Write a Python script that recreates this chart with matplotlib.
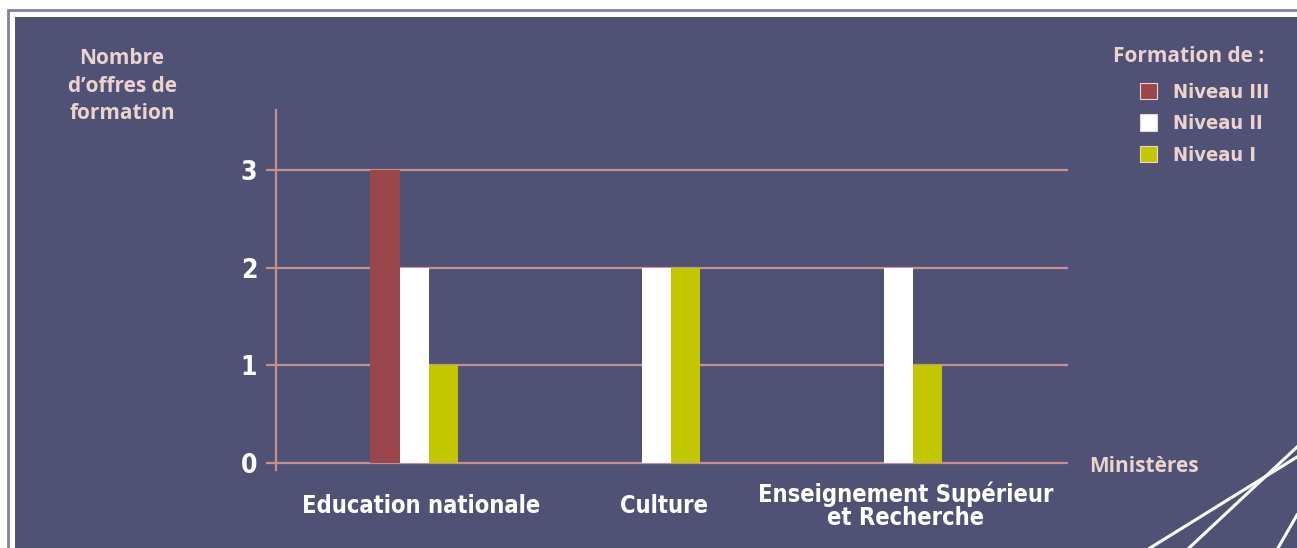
import numpy as np
import matplotlib
matplotlib.use("Agg")
import matplotlib.pyplot as plt
from matplotlib.patches import Rectangle, Patch
from matplotlib.lines import Line2D

# data
ministeres = ["Education nationale", "Culture", "Enseignement Supérieur\net Recherche"]
niveaux = ["Niveau III", "Niveau II", "Niveau I"]
niveau_3 = [3, 0, 0]
niveau_2 = [2, 2, 2]
niveau_1 = [1, 2, 1]
y_ticks = [0, 1, 2, 3]

PANEL = "#4f5275"
GRID = "#c98f8d"
PINK = "#ecd3ce"
colors = ["#9b464a", "#ffffff", "#c3c700"]
NARROW = ["DejaVu Sans"]
SEMI = ["Open Sans", "DejaVu Sans"]

W, H = 1297, 548
fig = plt.figure(figsize=(W / 100, H / 100), dpi=100, facecolor="white")

def px(x, y):
    return x / W, 1 - y / H

# outer frame and panel
fig.patches.append(Rectangle(px(7.5, 560), (W + 20) / W, (560 - 9.5) / H, transform=fig.transFigure,
                             facecolor="none", edgecolor="#7e80a0", linewidth=2, zorder=-2))
fig.patches.append(Rectangle(px(15, 560), (W + 20) / W, (560 - 17) / H, transform=fig.transFigure,
                             facecolor=PANEL, edgecolor="none", zorder=-2))

# decorative white lines, bottom right
for (x0, y0), (x1, y1) in [((1150, 548), (1297, 457)), ((1189, 548), (1297, 447)), ((1278, 548), (1297, 515))]:
    a, b = px(x0, y0), px(x1, y1)
    fig.lines.append(Line2D([a[0], b[0]], [a[1], b[1]], transform=fig.transFigure,
                            color="white", linewidth=2.2, zorder=-1))

ax_left, ax_right, ax_top, ax_bot = 276, 1068, 110, 470
ax = fig.add_axes([ax_left / W, 1 - ax_bot / H, (ax_right - ax_left) / W, (ax_bot - ax_top) / H])
ax.set_zorder(2)
ax.patch.set_alpha(0)

x = np.arange(len(ministeres))
bw = 0.12
for i, (vals, c) in enumerate(zip([niveau_3, niveau_2, niveau_1], colors)):
    ax.bar(x + (i - 1) * bw, vals, width=bw, color=c, zorder=3)

ax.set_ylim(-0.07, 3.614)
ax.set_xlim(-0.57, 2.70)
ax.set_yticks(y_ticks)
ax.set_yticklabels([str(t) for t in y_ticks], color="white", fontsize=19,
                   fontweight="bold", family=NARROW, fontstretch="condensed")
ax.yaxis.grid(True, color=GRID, linewidth=1.6, zorder=1)
ax.tick_params(axis="y", length=7.5, width=1.6, color=GRID, pad=6)
ax.set_xticks([])
for s in ["top", "right", "bottom"]:
    ax.spines[s].set_visible(False)
ax.spines["left"].set_color(GRID)
ax.spines["left"].set_linewidth(1.6)
ax.set_axisbelow(True)

for xi, name in zip(x, ministeres):
    ax.text(xi + 0.03, -0.44, name, ha="center", va="center",
            color="white", fontsize=17, fontweight="bold", family=NARROW,
            fontstretch="condensed", linespacing=0.95)

fig.text(*px(122, 86), "Nombre\nd\u2019offres de\nformation", ha="center", va="center",
         color=PINK, fontsize=15, fontweight="bold", family=SEMI, linespacing=1.4)
fig.text(*px(1144, 466), "Ministères", ha="center", va="center",
         color=PINK, fontsize=15, fontweight="bold", family=SEMI)
fig.text(*px(1189, 56), "Formation de :", ha="center", va="center",
         color=PINK, fontsize=15, fontweight="bold", family=SEMI)

handles = [Patch(facecolor=c, edgecolor=PINK, linewidth=0.8) for c in colors]
leg = fig.legend(handles, niveaux, loc="upper left", bbox_to_anchor=px(1140, 83),
                 frameon=False, handlelength=0.85, handleheight=0.85, handletextpad=0.8,
                 labelspacing=0.62, borderpad=0, borderaxespad=0,
                 prop={"family": NARROW, "weight": "bold", "size": 14.5, "stretch": "condensed"})
for t in leg.get_texts():
    t.set_color(PINK)

fig.savefig("out.png", dpi=100, facecolor="white")
